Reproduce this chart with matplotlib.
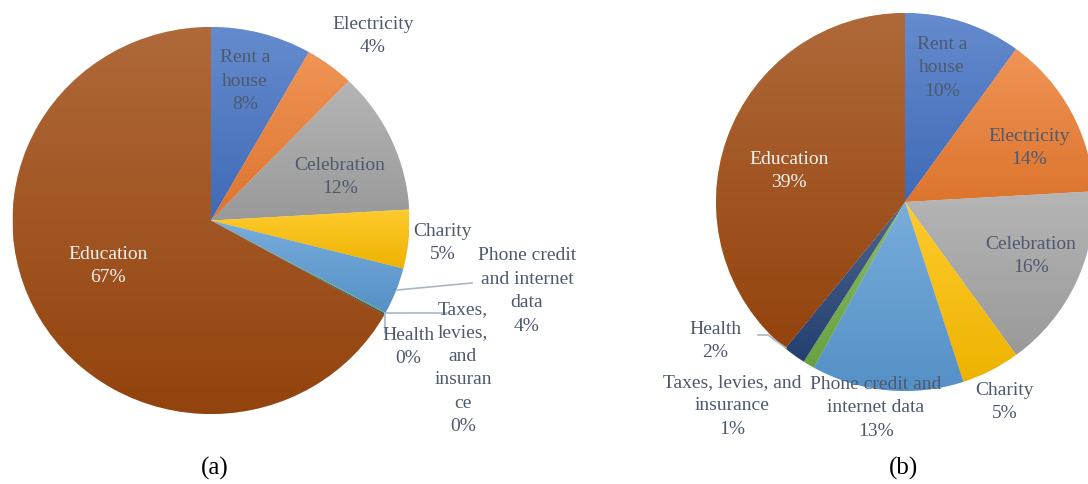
import numpy as np
import matplotlib
matplotlib.use("Agg")
import matplotlib.pyplot as plt
import matplotlib.colors as mcolors

# categories (clockwise from 12 o'clock)
categories = ["Rent a house", "Electricity", "Celebration", "Charity",
              "Phone credit and internet data", "Taxes, levies, and insurance",
              "Health", "Education"]
share_a = [8.2, 4.0, 11.9, 4.9, 3.9, 0.1, 0.1, 66.9]
share_b = [10.0, 14.1, 15.9, 5.0, 13.0, 1.0, 1.9, 39.1]

colors = ["#4472C4", "#ED7D31", "#A5A5A5", "#FFC000",
          "#5B9BD5", "#70AD47", "#264478", "#9E480E"]

# label text as wrapped in each chart
names_a = ["Rent a\nhouse", "Electricity", "Celebration", "Charity",
           "Phone credit\nand internet\ndata", "Taxes,\nlevies,\nand\ninsuran\nce",
           "Health", "Education"]
names_b = ["Rent a\nhouse", "Electricity", "Celebration", "Charity",
           "Phone credit and\ninternet data", "Taxes, levies, and\ninsurance",
           "Health", "Education"]

W, H = 1088, 484
plt.rcParams['font.family'] = ['Liberation Serif', 'DejaVu Serif']
fig = plt.figure(figsize=(W / 100, H / 100), dpi=100)

TXT = "#4D5A6E"


def make_pie(cx, cy, rx, ry, values, names, label_px, leaders, caption, cap_x):
    ax = fig.add_axes([(cx - rx) / W, (H - cy - ry) / H, 2 * rx / W, 2 * ry / H])
    wedges, _ = ax.pie(values, colors=colors, startangle=90, counterclock=False,
                       radius=1, wedgeprops=dict(edgecolor="white", linewidth=0.4))
    # vertical gradient, lighter on top, per slice
    for w, c in zip(wedges, colors):
        rgb = np.array(mcolors.to_rgb(c))
        top = rgb + (1 - rgb) * 0.18
        bot = rgb * 0.93
        t = np.linspace(0, 1, 200)[:, None, None]
        img = top * (1 - t) + bot * t
        bb = w.get_path().get_extents()
        im = ax.imshow(img, extent=(bb.x0, bb.x1, bb.y0, bb.y1), origin="upper",
                       aspect="auto", zorder=w.get_zorder() + 0.1, interpolation="bilinear")
        im.set_clip_path(w)
    ax.set_xlim(-1, 1)
    ax.set_ylim(-1, 1)
    ax.set_aspect("auto")
    ax.axis("off")

    def to_data(px, py):
        return (px - cx) / rx, (cy - py) / ry

    for i, (nm, v) in enumerate(zip(names, values)):
        x, y = to_data(*label_px[i])
        col = "#F2F2F2" if i == len(values) - 1 else TXT
        ax.text(x, y, f"{nm}\n{round(v):.0f}%", ha="center", va="center",
                fontsize=14, color=col, linespacing=1.5, zorder=10, clip_on=False)
    for seg in leaders:
        xs, ys = zip(*[to_data(px, py) for px, py in seg])
        ax.plot(xs, ys, color="#A9B6C8", lw=1.2, zorder=9, clip_on=False)
    fig.text(cap_x / W, 1 - 468 / H, caption, ha="center", va="center",
             fontsize=18, color="black")
    return ax


labels_a = [(245, 81), (373, 36), (340, 177), (443, 243),
            (527, 291), (463, 368), (408, 347), (108, 266)]
leaders_a = [[(397, 290), (472, 283)], [(385, 313), (447, 313)],
             [(385, 313), (385, 333)]]
make_pie(211, 220.5, 198.5, 193.5, share_a, names_a, labels_a, leaders_a, "(a)", 215)

labels_b = [(942, 68), (1029, 148), (1031, 256), (1005, 402),
            (876, 408), (732, 406), (715, 341), (789, 171)]
leaders_b = [[(758, 335), (768, 335), (786, 348)]]
make_pie(905, 202, 189, 189, share_b, names_b, labels_b, leaders_b, "(b)", 904)

fig.savefig("out.png", dpi=100)
